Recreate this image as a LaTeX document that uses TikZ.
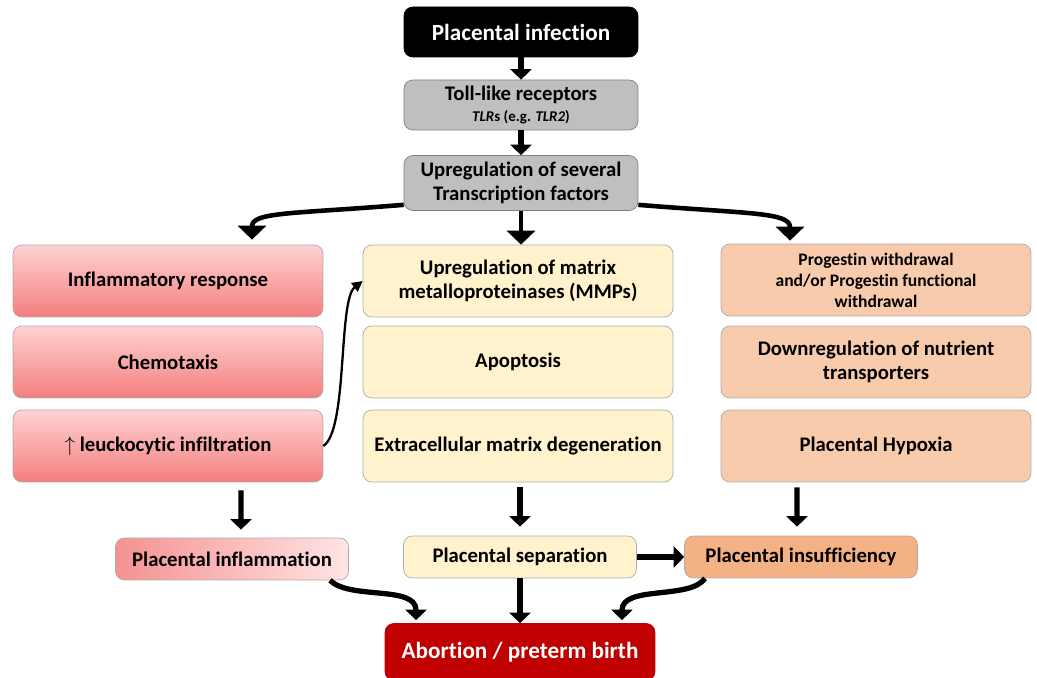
\documentclass[tikz,border=0pt]{standalone}
\usepackage{fontspec}
\setmainfont[Ligatures=NoCommon]{Carlito}
\usetikzlibrary{arrows.meta}

\definecolor{greybox}{HTML}{BFBFBF}
\definecolor{pinktop}{HTML}{FFD2D2}
\definecolor{pinkbot}{HTML}{F47E7E}
\definecolor{creambox}{HTML}{FFF2CC}
\definecolor{peachbox}{HTML}{F8CBAD}
\definecolor{orangebox}{HTML}{F4B183}
\definecolor{darkred}{HTML}{C00000}

\begin{document}
\begin{tikzpicture}[
        x=0.02cm, y=0.02cm,
        box/.style={
            draw=gray!65,
            rounded corners=5pt,
            align=center,
            inner sep=3pt,
            font=\fontsize{11.8}{13.8}\selectfont\bfseries
        },
        topbox/.style={box, minimum width=4.68cm, minimum height=1cm},
        colbox/.style={box, minimum width=6.2cm, minimum height=1.44cm},
        outbox/.style={box, minimum width=4.66cm, minimum height=0.84cm},
        pinkbox/.style={colbox, top color=pinktop, bottom color=pinkbot},
        creamcol/.style={colbox, fill=creambox},
        peachcol/.style={colbox, fill=peachbox},
        bigarrow/.style={-{Triangle[width=12pt,length=6pt]}, line width=3pt},
        splitarrow/.style={-{Triangle[width=16pt,length=8pt]}, line width=2.6pt},
        thinarrow/.style={-{Triangle[width=6pt,length=6pt]}, line width=1.3pt}
    ]

    \useasboundingbox (0,0) rectangle (1037,-678);

    % top chain
    \node[topbox, fill=black, draw=black, text=white,
          font=\fontsize{13.2}{15}\selectfont\bfseries] (inf) at (521,-32) {Placental infection};
    \node[topbox, fill=greybox, draw=gray] (tlr) at (521,-105)
        {Toll-like receptors\\[-2pt]{\fontsize{8.5}{10}\selectfont\itshape TLR\upshape s (e.g. \itshape TLR2\upshape)}};
    \node[topbox, fill=greybox, draw=gray, minimum height=1.1cm] (trans) at (521,-183)
        {Upregulation of several\\Transcription factors};

    % left column
    \node[pinkbox] (inflam) at (168,-281) {Inflammatory response};
    \node[pinkbox] (chemo) at (168,-362) {Chemotaxis};
    \node[pinkbox] (leuk) at (168,-446) {$\uparrow$ leuckocytic infiltration};

    % middle column
    \node[creamcol] (mmp) at (518,-281) {Upregulation of matrix\\metalloproteinases (MMPs)};
    \node[creamcol] (apop) at (518,-362) {Apoptosis};
    \node[creamcol] (ecm) at (518,-446) {Extracellular matrix degeneration};

    % right column
    \node[peachcol, font=\fontsize{10}{12}\selectfont\bfseries] (prog) at (876,-280)
        {Progestin withdrawal\\and/or Progestin functional\\withdrawal};
    \node[peachcol] (nutr) at (876,-362) {Downregulation of nutrient\\transporters};
    \node[peachcol] (hypox) at (876,-446) {Placental Hypoxia};

    % outcomes
    \node[outbox, left color=pinkbot!85, right color=pinktop!60] (pinf) at (232,-559) {Placental inflammation};
    \node[outbox, fill=creambox] (psep) at (520,-557) {Placental separation};
    \node[outbox, fill=orangebox] (pins) at (801,-557) {Placental insufficiency};
    \node[box, fill=darkred, draw=darkred, text=white, minimum width=5.4cm, minimum height=1.14cm,
          font=\fontsize{13.2}{15}\selectfont\bfseries] (abort) at (520,-652) {Abortion / preterm birth};

    \coordinate (lt) at ([xshift=1.68cm,yshift=0.1cm]inflam.north);
    \coordinate (rt) at ([xshift=-1.72cm,yshift=0.06cm]prog.north);

    \draw[bigarrow] (inf) -- (tlr);
    \draw[bigarrow] (tlr) -- (trans);
    \draw[splitarrow] (trans.south) -- (trans.south |- mmp.north);
    \draw[splitarrow] ([yshift=0.12cm]trans.south west) .. controls (290,-214) and (252,-212) .. (lt);
    \draw[splitarrow] ([yshift=0.12cm]trans.south east) .. controls (750,-214) and (790,-212) .. (rt);

    \draw[thinarrow] (leuk.east) .. controls (348,-430) and (338,-300) .. (mmp.west);

    \draw[bigarrow] ([xshift=1.46cm,yshift=-0.16cm]leuk.south) -- ([xshift=0.18cm,yshift=0.16cm]pinf.north);
    \draw[bigarrow] ([yshift=-0.1cm]psep.north |- ecm.south) -- ([yshift=0.18cm]psep.north);
    \draw[bigarrow] ([xshift=-1.58cm,yshift=-0.1cm]hypox.south) -- ([xshift=-0.08cm,yshift=0.18cm]pins.north);
    \draw[bigarrow] (psep) -- (pins);

    \draw[bigarrow] ([xshift=1.96cm]pinf.south) .. controls (350,-600) and (416,-585) .. ([xshift=-2.08cm,yshift=0.06cm]abort.north);
    \draw[bigarrow] (psep.south) -- (psep.south |- abort.north);
    \draw[bigarrow] ([xshift=-1.92cm]pins.south) .. controls (690,-600) and (622,-585) .. ([xshift=2.04cm,yshift=0.06cm]abort.north);

\end{tikzpicture}
\end{document}
